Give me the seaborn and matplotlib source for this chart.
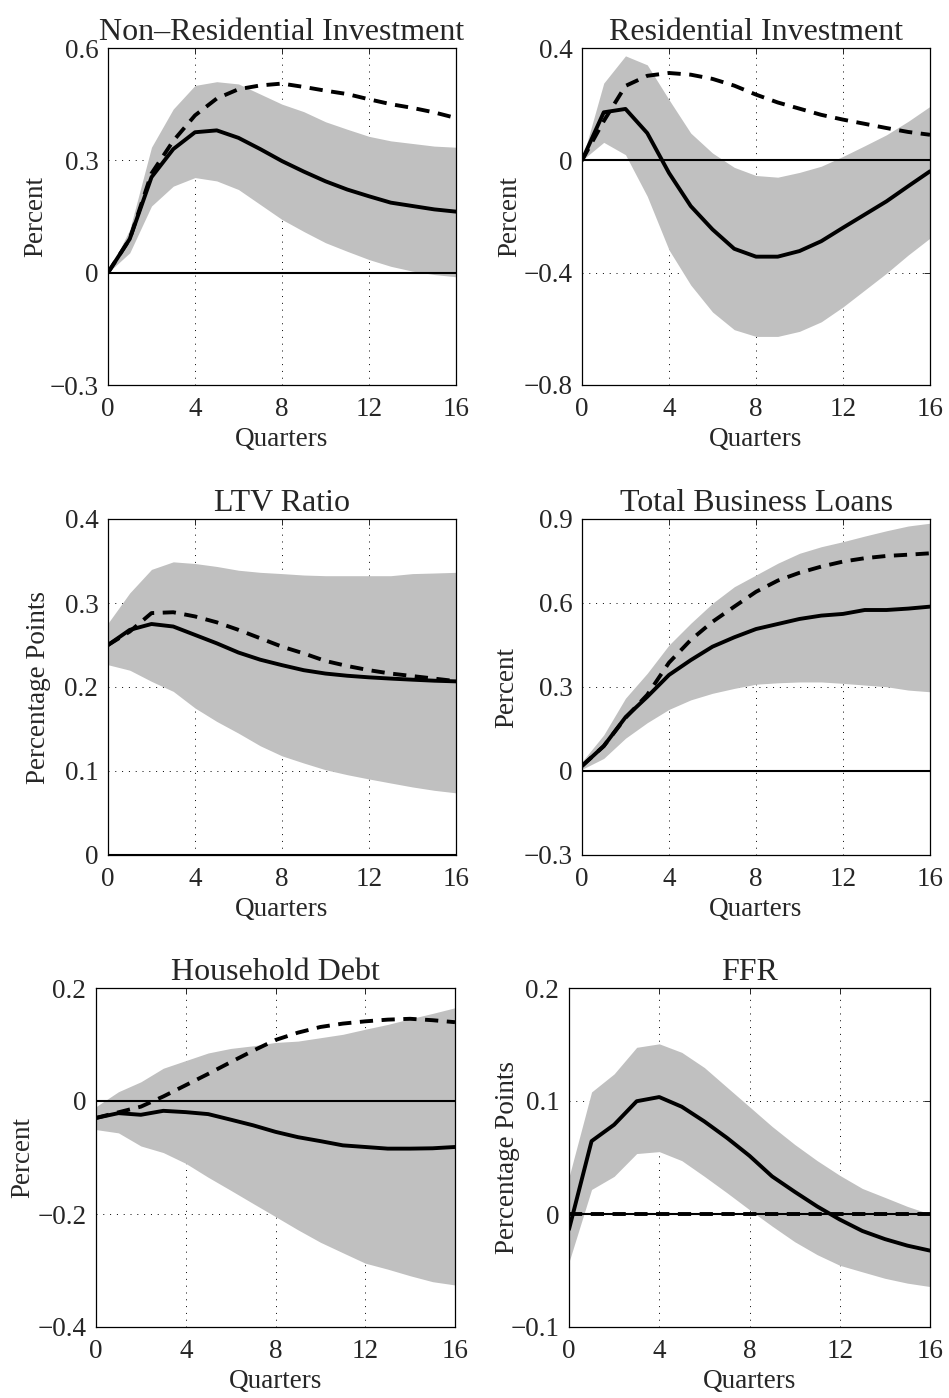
import matplotlib
matplotlib.use("Agg")
import matplotlib.pyplot as plt
import numpy as np
import pandas as pd
import seaborn as sns
from matplotlib.ticker import FuncFormatter

quarters = list(range(17))

# Non-Residential Investment
nri_solid = [0, 0.09, 0.255, 0.33, 0.375, 0.38, 0.36, 0.33, 0.298, 0.27, 0.244, 0.222, 0.204, 0.187, 0.178, 0.169, 0.163]
nri_dash = [0, 0.09, 0.265, 0.352, 0.42, 0.465, 0.49, 0.50, 0.505, 0.496, 0.486, 0.477, 0.463, 0.45, 0.44, 0.428, 0.413]
nri_hi = [0, 0.115, 0.335, 0.437, 0.5, 0.51, 0.504, 0.477, 0.45, 0.43, 0.403, 0.383, 0.364, 0.352, 0.345, 0.338, 0.335]
nri_lo = [0, 0.053, 0.178, 0.231, 0.254, 0.245, 0.222, 0.182, 0.142, 0.11, 0.08, 0.057, 0.035, 0.017, 0.004, -0.005, -0.011]

# Residential Investment
ri_solid = [0, 0.171, 0.183, 0.097, -0.045, -0.163, -0.246, -0.315, -0.343, -0.343, -0.323, -0.288, -0.24, -0.193, -0.146, -0.092, -0.039]
ri_dash = [0, 0.14, 0.265, 0.301, 0.311, 0.305, 0.29, 0.266, 0.234, 0.206, 0.184, 0.162, 0.145, 0.13, 0.115, 0.101, 0.091]
ri_hi = [0, 0.275, 0.372, 0.34, 0.216, 0.097, 0.026, -0.025, -0.054, -0.06, -0.043, -0.021, 0.014, 0.052, 0.091, 0.139, 0.192]
ri_lo = [0, 0.064, 0.02, -0.128, -0.319, -0.444, -0.54, -0.603, -0.627, -0.627, -0.609, -0.575, -0.522, -0.462, -0.402, -0.337, -0.277]

# LTV Ratio
ltv_solid = [0.25, 0.268, 0.275, 0.272, 0.262, 0.252, 0.241, 0.2325, 0.226, 0.22, 0.216, 0.2134, 0.2115, 0.21, 0.2087, 0.2075, 0.2067]
ltv_dash = [0.25, 0.266, 0.288, 0.289, 0.284, 0.277, 0.268, 0.258, 0.248, 0.24, 0.231, 0.225, 0.22, 0.216, 0.213, 0.21, 0.207]
ltv_hi = [0.276, 0.312, 0.34, 0.349, 0.347, 0.3435, 0.339, 0.3365, 0.335, 0.3333, 0.3325, 0.3325, 0.3325, 0.3325, 0.335, 0.3357, 0.3365]
ltv_lo = [0.2265, 0.22, 0.2067, 0.1948, 0.175, 0.159, 0.145, 0.13, 0.118, 0.1095, 0.1015, 0.0956, 0.0905, 0.0857, 0.081, 0.077, 0.074]

# Total Business Loans
tbl_solid = [0.018, 0.089, 0.192, 0.265, 0.343, 0.396, 0.444, 0.4775, 0.507, 0.525, 0.543, 0.555, 0.561, 0.575, 0.575, 0.58, 0.587]
tbl_dash = [0.018, 0.089, 0.19, 0.272, 0.387, 0.468, 0.533, 0.587, 0.64, 0.68, 0.708, 0.73, 0.748, 0.76, 0.768, 0.7725, 0.7775]
tbl_hi = [0.033, 0.129, 0.26, 0.349, 0.45, 0.5275, 0.599, 0.658, 0.7, 0.742, 0.7775, 0.801, 0.819, 0.839, 0.858, 0.875, 0.885]
tbl_lo = [0.006, 0.045, 0.117, 0.1725, 0.22, 0.254, 0.2775, 0.295, 0.31, 0.315, 0.318, 0.318, 0.313, 0.307, 0.301, 0.289, 0.283]

# Household Debt
hd_solid = [-0.03, -0.0215, -0.0244, -0.0174, -0.0197, -0.0232, -0.033, -0.043, -0.0546, -0.064, -0.071, -0.0785, -0.0814, -0.0843, -0.0843, -0.0837, -0.0814]
hd_dash = [-0.03, -0.02, -0.01, 0.008, 0.028, 0.048, 0.0687, 0.089, 0.108, 0.121, 0.131, 0.137, 0.141, 0.144, 0.1455, 0.143, 0.1395]
hd_hi = [-0.01, 0.0164, 0.034, 0.058, 0.0715, 0.085, 0.093, 0.0977, 0.1036, 0.106, 0.112, 0.118, 0.127, 0.1355, 0.1455, 0.155, 0.165]
hd_lo = [-0.0506, -0.0564, -0.0796, -0.0913, -0.1104, -0.135, -0.158, -0.1814, -0.2046, -0.228, -0.25, -0.2686, -0.287, -0.2976, -0.3093, -0.3198, -0.3256]

# FFR
ffr_solid = [-0.0136, 0.0645, 0.079, 0.0998, 0.1035, 0.0949, 0.0819, 0.0674, 0.0515, 0.0333, 0.0197, 0.0067, -0.0049, -0.015, -0.0222, -0.028, -0.0324]
ffr_dash = [0, 0, 0, 0, 0, 0, 0, 0, 0, 0, 0, 0, 0, 0, 0, 0, 0]
ffr_hi = [0.0327, 0.108, 0.124, 0.1475, 0.1506, 0.143, 0.1296, 0.1122, 0.0949, 0.0775, 0.0616, 0.0472, 0.0342, 0.0226, 0.0147, 0.0067, 0.0]
ffr_lo = [-0.0425, 0.0217, 0.0333, 0.0535, 0.0552, 0.0472, 0.0333, 0.0188, 0.0038, -0.0107, -0.0245, -0.036, -0.0454, -0.0512, -0.0569, -0.0612, -0.0642]

titles = ["Non\u2013Residential Investment", "Residential Investment", "LTV Ratio",
          "Total Business Loans", "Household Debt", "FFR"]
ylabels = ["Percent", "Percent", "Percentage Points", "Percent", "Percent", "Percentage Points"]
yticks = [[-0.3, 0, 0.3, 0.6], [-0.8, -0.4, 0, 0.4], [0, 0.1, 0.2, 0.3, 0.4],
          [-0.3, 0, 0.3, 0.6, 0.9], [-0.4, -0.2, 0, 0.2], [-0.1, 0, 0.1, 0.2]]
xticks = [0, 4, 8, 12, 16]

panels = [
    (nri_solid, nri_dash, nri_lo, nri_hi),
    (ri_solid, ri_dash, ri_lo, ri_hi),
    (ltv_solid, ltv_dash, ltv_lo, ltv_hi),
    (tbl_solid, tbl_dash, tbl_lo, tbl_hi),
    (hd_solid, hd_dash, hd_lo, hd_hi),
    (ffr_solid, ffr_dash, ffr_lo, ffr_hi),
]

# axes boxes in pixels (left, right, top, bottom) of a 949x1398 canvas
boxes = [
    (108, 456, 48, 385), (582, 930, 48, 385),
    (108, 456, 519, 855), (582, 930, 519, 855),
    (96, 455, 988, 1327), (569, 930, 988, 1327),
]
# right edge (px) of each y label, as placed in the original
ylabel_x = [48, 522, 51, 519, 35, 520]

sns.set_style("white")
plt.rcParams["font.family"] = ["Liberation Serif", "DejaVu Serif"]
plt.rcParams["axes.unicode_minus"] = True


def fmt(v, pos):
    s = "%g" % round(v, 3)
    if s in ("-0", "0.0"):
        s = "0"
    return s.replace("-", "\u2212")


W, H = 949, 1398
fig = plt.figure(figsize=(W / 100, H / 100), dpi=100)

for i, (solid, dash, lo, hi) in enumerate(panels):
    l, r, t, b = boxes[i]
    ax = fig.add_axes([l / W, 1 - b / H, (r - l) / W, (b - t) / H])
    df = pd.DataFrame({"q": quarters, "solid": solid, "dash": dash, "lo": lo, "hi": hi})

    ax.fill_between(df["q"], df["lo"], df["hi"], color="#c0c0c0", lw=0, zorder=1)
    ax.axhline(0, color="black", lw=1.5, zorder=2)
    sns.lineplot(data=df, x="q", y="dash", ax=ax, color="black", lw=2.8,
                 linestyle=(0, (3.4, 2.2)), zorder=3)
    sns.lineplot(data=df, x="q", y="solid", ax=ax, color="black", lw=2.8, zorder=4)

    ax.set_xlim(0, 16)
    ax.set_ylim(yticks[i][0], yticks[i][-1])
    ax.set_xticks(xticks)
    ax.set_yticks(yticks[i])
    ax.yaxis.set_major_formatter(FuncFormatter(fmt))
    ax.grid(True, color="black", lw=0.7, linestyle=(0, (1, 6)))
    ax.tick_params(direction="in", length=4, width=0.7, top=True, right=True,
                   labelsize=19.5)
    ax.tick_params(axis="x", pad=9)
    ax.tick_params(axis="y", pad=7)
    for s in ax.spines.values():
        s.set_color("black")
        s.set_linewidth(0.9)
    ax.set_title(titles[i], fontsize=23, pad=6)
    ax.set_xlabel("Quarters", fontsize=19.5, labelpad=3)
    ax.set_ylabel(ylabels[i], fontsize=19.5)
    ax.yaxis.set_label_coords((ylabel_x[i] - l) / (r - l), 0.5)

fig.savefig("out.png", dpi=100)
